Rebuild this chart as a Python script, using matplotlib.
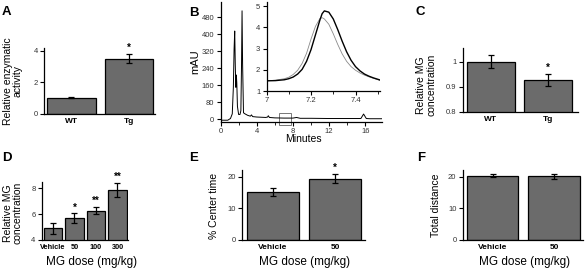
import numpy as np
import matplotlib
matplotlib.use("Agg")
import matplotlib.pyplot as plt
from matplotlib.patches import Rectangle

plt.rcParams['font.family'] = ['Liberation Sans', 'DejaVu Sans']

# --- data ---
a_groups = ["WT", "Tg"]
a_vals = [1.0, 3.5]
a_err = [0.03, 0.3]
a_stars = ["", "*"]

# chromatogram (minutes, mAU)
b_time = [0, 0.8, 1.1, 1.3, 1.42, 1.5, 1.57, 1.63, 1.69, 1.75, 1.8, 1.87, 2.0, 2.15, 2.25,
          2.32, 2.38, 2.44, 2.54, 2.7, 3.0, 3.3, 3.42, 3.55, 4.0, 5.0, 5.2, 5.28, 5.4, 6.0,
          7.0, 8.0, 8.4, 8.8, 10, 12, 14, 15.5, 15.8, 16.1, 16.5, 17.8]
b_mau = [-5, -5, 3, 25, 150, 330, 415, 260, 150, 208, 170, 60, 22, 22, 40,
         250, 510, 260, 30, 25, 18, 14, 20, 12, 10, 8, 10, 16, 8, 6,
         5, 5, 8, 4, 4, 3, 3, 3, 24, 3, 2, 2]

# inset zoom of the 7.0-7.5 min peak
inset_time = [7.00, 7.04, 7.08, 7.10, 7.12, 7.14, 7.16, 7.18, 7.20, 7.22, 7.24, 7.25, 7.26,
              7.28, 7.30, 7.32, 7.34, 7.36, 7.38, 7.40, 7.42, 7.44, 7.46, 7.48, 7.51]
inset_tg = [1.48, 1.49, 1.53, 1.58, 1.66, 1.80, 2.02, 2.40, 2.95, 3.65, 4.35, 4.65, 4.78,
            4.72, 4.40, 3.90, 3.35, 2.85, 2.45, 2.15, 1.95, 1.80, 1.70, 1.62, 1.52]
inset_wt = [1.48, 1.51, 1.58, 1.65, 1.78, 1.98, 2.30, 2.78, 3.45, 4.05, 4.42, 4.46, 4.40,
            4.15, 3.70, 3.20, 2.75, 2.40, 2.15, 1.98, 1.85, 1.75, 1.67, 1.60, 1.50]

c_groups = ["WT", "Tg"]
c_vals = [1.0, 0.928]
c_err = [0.025, 0.024]
c_stars = ["", "*"]

d_groups = ["Vehicle", "50", "100", "300"]
d_vals = [4.9, 5.68, 6.28, 7.9]
d_err = [0.41, 0.4, 0.28, 0.55]
d_stars = ["", "*", "**", "**"]

e_groups = ["Vehicle", "50"]
e_vals = [15.1, 19.4]
e_err = [1.2, 1.45]
e_stars = ["", "*"]

f_groups = ["Vehicle", "50"]
f_vals = [20.3, 20.1]
f_err = [0.5, 0.8]

W, H = 587, 268
fig = plt.figure(figsize=(W / 100, H / 100), dpi=100)


def px_axes(left, right, top, bottom):
    return fig.add_axes([left / W, 1 - bottom / H, (right - left) / W, (bottom - top) / H])


def style(ax):
    for s in ["top", "right"]:
        ax.spines[s].set_visible(False)
    for s in ["left", "bottom"]:
        ax.spines[s].set_linewidth(0.9)
    ax.tick_params(direction="out", length=3, width=0.8, labelsize=5.5, pad=1.5,
                   labelcolor="#333333")


def bar_panel(ax, groups, vals, errs, stars, width, xlim, ylim, yticks, yfmt=None, catsize=6):
    x = np.arange(len(groups))
    ax.bar(x, vals, width=width, color="#6b6b6b", edgecolor="black", linewidth=0.9, zorder=2)
    ax.errorbar(x, vals, yerr=errs, fmt="none", ecolor="black", elinewidth=0.9,
                capsize=2.2, capthick=0.9, zorder=3)
    for xi, v, e, s in zip(x, vals, errs, stars):
        if s:
            ax.annotate(s, (xi, v + e), xytext=(0, 0.5), textcoords="offset points",
                        ha="center", va="bottom", fontsize=7, fontweight="bold")
    style(ax)
    ax.set_xlim(*xlim)
    ax.set_ylim(*ylim)
    ax.set_yticks(yticks)
    if yfmt:
        ax.set_yticklabels([yfmt(t) for t in yticks])
    ax.set_xticks(x)
    ax.set_xticklabels(groups, fontweight="bold", fontsize=catsize, color="black")
    ax.tick_params(axis="x", length=0, pad=3)


# A
axA = px_axes(44, 155, 48.3, 113.7)
bar_panel(axA, a_groups, a_vals, a_err, a_stars, 0.85, (-0.478, 1.452), (0, 4.15), [0, 2, 4])
axA.set_ylabel("Relative enzymatic\nactivity", fontsize=7.5, va="center", linespacing=1.0)
axA.yaxis.set_label_coords(-0.28, 0.5)

# B
axB = px_axes(220.5, 381.7, 1.7, 121.7)
axB.plot(b_time, b_mau, color="black", lw=0.7)
style(axB)
axB.set_xlim(0, 17.8)
axB.set_ylim(-12, 553)
axB.set_yticks(range(0, 481, 80))
axB.set_xticks([0, 4, 8, 12, 16])
axB.set_xticks([2, 6, 10, 14], minor=True)
axB.tick_params(which="minor", length=1.8, width=0.6)
axB.set_ylabel("mAU", fontsize=8, va="center")
axB.yaxis.set_label_coords(-0.158, 0.5)
axB.set_xlabel("Minutes", fontsize=7.5, va="center")
axB.xaxis.set_label_coords(0.512, -0.144)
axB.add_patch(Rectangle((6.5, -28), 1.25, 55, fill=False, edgecolor="#777777", lw=0.7,
                        clip_on=False))

axI = px_axes(266.5, 380, 2, 91)
axI.set_facecolor("none")
axI.plot(inset_time, inset_wt, color="#8a8a8a", lw=0.6)
axI.plot(inset_time, inset_tg, color="black", lw=1.0)
style(axI)
axI.set_xlim(7, 7.51)
axI.set_ylim(1, 5.2)
axI.set_xticks([7, 7.2, 7.4])
axI.set_xticklabels(["7", "7.2", "7.4"])
axI.set_xticks([7.1, 7.3, 7.5], minor=True)
axI.set_yticks([1, 2, 3, 4, 5])
axI.tick_params(which="minor", length=2.5, width=0.6)

# C
axC = px_axes(462.7, 578, 48, 112)
bar_panel(axC, c_groups, c_vals, c_err, c_stars, 0.84, (-0.496, 1.526), (0.8, 1.054),
          [0.8, 0.9, 1.0], yfmt=lambda t: "1" if t == 1 else f"{t:.1f}")
axC.set_ylabel("Relative MG\nconcentration", fontsize=7.5, va="center", linespacing=1.0)
axC.yaxis.set_label_coords(-0.314, 0.42)

# D
axD = px_axes(41.7, 128, 182, 240)
bar_panel(axD, d_groups, d_vals, d_err, d_stars, 0.86, (-0.526, 3.49), (4, 8.49), [4, 6, 8],
          catsize=5.3)
axD.set_ylabel("Relative MG\nconcentration", fontsize=7.5, va="center", linespacing=1.0)
axD.yaxis.set_label_coords(-0.333, 0.47)
axD.set_xlabel("MG dose (mg/kg)", fontsize=8.5, va="center")
axD.xaxis.set_label_coords(0.58, -0.374)

# E
axE = px_axes(242.3, 365, 170, 240)
bar_panel(axE, e_groups, e_vals, e_err, e_stars, 0.84, (-0.495, 1.484), (0, 22.1), [0, 10, 20])
axE.set_ylabel("% Center time", fontsize=7.5, va="center")
axE.yaxis.set_label_coords(-0.231, 0.486)
axE.set_xlabel("MG dose (mg/kg)", fontsize=8.5, va="center")
axE.xaxis.set_label_coords(0.511, -0.31)

# F
axF = px_axes(462.7, 583, 170, 240)
bar_panel(axF, f_groups, f_vals, f_err, ["", ""], 0.84, (-0.485, 1.47), (0, 22.1), [0, 10, 20])
axF.set_ylabel("Total distance", fontsize=7.5, va="center")
axF.yaxis.set_label_coords(-0.2225, 0.49)
axF.set_xlabel("MG dose (mg/kg)", fontsize=8.5, va="center")
axF.xaxis.set_label_coords(0.511, -0.31)

# panel letters
for letter, (px, py) in {"A": (2, 6), "B": (189, 7), "C": (416, 6),
                         "D": (2, 152), "E": (189, 152), "F": (417, 152)}.items():
    fig.text(px / W, 1 - py / H, letter, fontsize=9.5, fontweight="bold", ha="left", va="top")

fig.savefig("out.png", dpi=100)
